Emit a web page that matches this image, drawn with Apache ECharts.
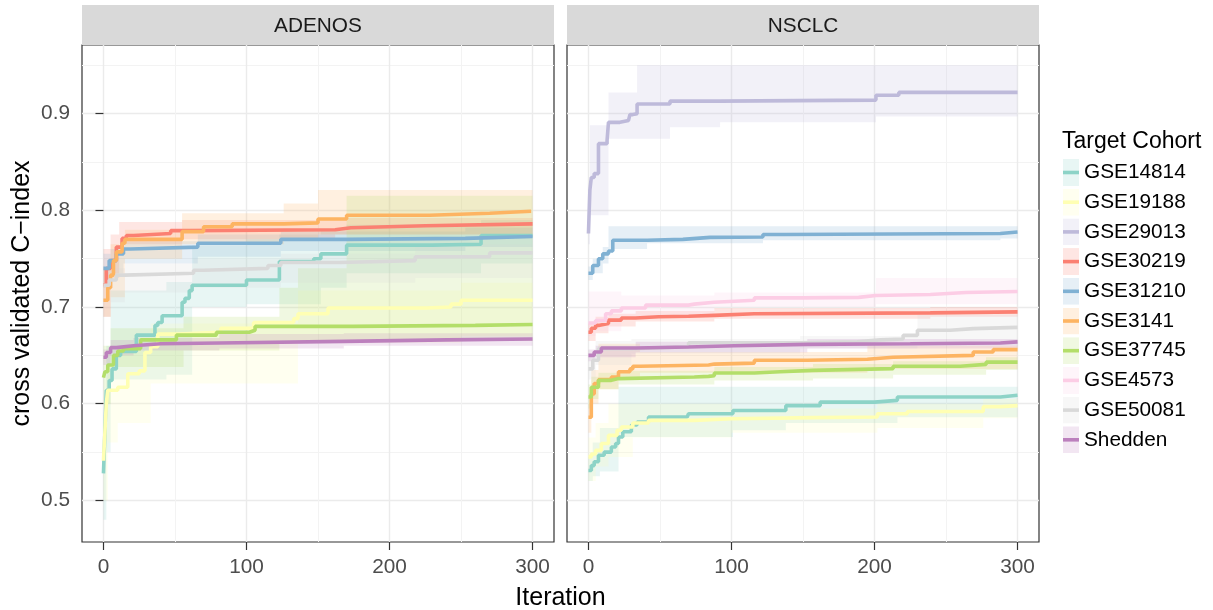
<!DOCTYPE html>
<html>
<head>
<meta charset="utf-8">
<script src="https://cdn.jsdelivr.net/npm/echarts@6/dist/echarts.min.js"></script>
<style>
html,body{margin:0;padding:0;background:#fff;}
#chart{width:1213px;height:610px;}
</style>
</head>
<body>
<div id="chart"></div>
<script>
// ---------- data ----------
const PANELS = ['ADENOS', 'NSCLC'];
const COHORTS = ['GSE14814','GSE19188','GSE29013','GSE30219','GSE31210','GSE3141','GSE37745','GSE4573','GSE50081','Shedden'];
const COLORS  = ['#8DD3C7','#FFFFB3','#BEBADA','#FB8072','#80B1D3','#FDB462','#B3DE69','#FCCDE5','#D9D9D9','#BC80BD'];
const X_MAJOR = [0, 100, 200, 300];
const X_MINOR = [50, 150, 250];
const Y_MAJOR = [0.5, 0.6, 0.7, 0.8, 0.9];
const Y_MINOR = [0.55, 0.65, 0.75, 0.85, 0.95];

// ADENOS: [iteration, C-index] (step, value holds until next point)
const ADENOS_GSE14814 = [[0,0.528],[1,0.57],[2,0.614],[4,0.624],[6,0.636],[9,0.650],[12,0.654],[23,0.671],[36,0.681],[38,0.684],[41,0.691],[55,0.705],[57,0.709],[60,0.717],[62,0.7225],[100,0.728],[123,0.747],[147,0.750],[152,0.755],[170,0.764],[230,0.765],[264,0.774],[300,0.774]];
const ADENOS_GSE19188 = [[0,0.541],[1,0.57],[2,0.60],[3,0.614],[10,0.617],[17,0.631],[25,0.634],[29,0.653],[33,0.659],[38,0.672],[52,0.674],[82,0.678],[105,0.684],[133,0.688],[136,0.693],[157,0.699],[226,0.700],[243,0.703],[250,0.707],[300,0.707]];
const ADENOS_GSE30219 = [[0,0.723],[2,0.74],[5,0.748],[9,0.762],[13,0.771],[16,0.774],[21,0.776],[47,0.779],[60,0.780],[162,0.782],[173,0.784],[225,0.786],[300,0.786]];
const ADENOS_GSE31210 = [[0,0.740],[4,0.748],[9,0.755],[14,0.760],[19,0.762],[66,0.766],[124,0.770],[170,0.771],[253,0.773],[300,0.773]];
const ADENOS_GSE3141  = [[0,0.707],[3,0.72],[5,0.733],[7,0.748],[9,0.757],[13,0.766],[15,0.770],[55,0.778],[70,0.783],[90,0.786],[126,0.787],[150,0.791],[170,0.795],[228,0.797],[270,0.799],[299,0.800],[300,0.800]];
const ADENOS_GSE37745 = [[0,0.627],[1,0.633],[3,0.640],[7,0.650],[10,0.6545],[14,0.657],[26,0.666],[51,0.671],[79,0.674],[102,0.676],[106,0.680],[174,0.681],[260,0.682],[300,0.682]];
const ADENOS_GSE50081 = [[0,0.7225],[4,0.728],[9,0.733],[15,0.735],[63,0.738],[70,0.740],[115,0.743],[124,0.746],[165,0.748],[218,0.752],[270,0.756],[300,0.757]];
const ADENOS_Shedden  = [[0,0.648],[2,0.653],[5,0.658],[9,0.660],[21,0.662],[40,0.6628],[81,0.6645],[168,0.666],[240,0.667],[300,0.667]];

// ADENOS confidence bands: [iteration, lower, upper]
const ADENOS_GSE14814_CI = [[0,0.48,0.57],[2,0.55,0.66],[5,0.625,0.717],[44,0.63,0.726],[62,0.70,0.764],[100,0.703,0.77],[123,0.703,0.775],[152,0.72,0.78],[170,0.735,0.785],[264,0.745,0.79],[300,0.745,0.79]];
const ADENOS_GSE19188_CI = [[0,0.50,0.58],[3,0.56,0.64],[10,0.58,0.655],[33,0.621,0.683],[136,0.663,0.717],[250,0.67,0.725],[300,0.67,0.725]];
const ADENOS_GSE30219_CI = [[0,0.69,0.76],[5,0.73,0.775],[11,0.765,0.788],[55,0.77,0.79],[162,0.775,0.792],[300,0.778,0.795]];
const ADENOS_GSE31210_CI = [[0,0.72,0.755],[5,0.735,0.76],[14,0.745,0.768],[66,0.752,0.775],[124,0.758,0.778],[253,0.762,0.782],[300,0.762,0.782]];
const ADENOS_GSE3141_CI  = [[0,0.69,0.74],[5,0.71,0.765],[15,0.75,0.78],[55,0.765,0.797],[126,0.77,0.807],[150,0.775,0.821],[300,0.78,0.821]];
const ADENOS_GSE37745_CI = [[0,0.60,0.66],[5,0.638,0.678],[56,0.655,0.69],[123,0.665,0.72],[136,0.665,0.74],[170,0.665,0.815],[300,0.665,0.815]];
const ADENOS_GSE50081_CI = [[0,0.69,0.735],[5,0.705,0.74],[15,0.715,0.745],[63,0.72,0.75],[124,0.725,0.755],[218,0.73,0.765],[300,0.735,0.77]];
const ADENOS_Shedden_CI  = [[0,0.64,0.656],[5,0.65,0.666],[21,0.655,0.668],[81,0.657,0.672],[168,0.66,0.673],[300,0.66,0.674]];

// NSCLC: [iteration, C-index]
const NSCLC_GSE14814 = [[0,0.531],[2,0.536],[4,0.540],[7,0.5467],[11,0.55],[16,0.5553],[19,0.5588],[21,0.5656],[24,0.571],[30,0.578],[34,0.581],[42,0.5863],[69,0.588],[70,0.5897],[101,0.593],[138,0.598],[162,0.6017],[200,0.6035],[216,0.607],[288,0.6087],[300,0.609]];
const NSCLC_GSE19188 = [[0,0.545],[2,0.548],[5,0.5518],[9,0.5588],[14,0.5673],[20,0.5725],[23,0.576],[31,0.580],[42,0.5828],[74,0.5845],[100,0.5856],[157,0.5863],[202,0.5897],[223,0.592],[276,0.597],[288,0.598],[300,0.598]];
const NSCLC_GSE29013 = [[0,0.776],[1,0.821],[2,0.834],[4,0.838],[7,0.869],[13,0.872],[14,0.891],[22,0.893],[28,0.895],[29,0.899],[31,0.900],[34,0.910],[57,0.913],[92,0.914],[201,0.919],[217,0.922],[300,0.922]];
const NSCLC_GSE30219 = [[0,0.674],[2,0.678],[5,0.681],[7,0.683],[14,0.6865],[23,0.6887],[33,0.690],[49,0.6904],[70,0.6914],[88,0.693],[116,0.694],[239,0.695],[300,0.695]];
const NSCLC_GSE31210 = [[0,0.735],[3,0.743],[7,0.750],[10,0.755],[14,0.758],[17,0.769],[41,0.770],[66,0.772],[85,0.7724],[122,0.775],[137,0.776],[288,0.7776],[300,0.778]];
const NSCLC_GSE3141  = [[0,0.586],[2,0.610],[4,0.6208],[7,0.6249],[16,0.6276],[21,0.633],[29,0.636],[31,0.6387],[36,0.640],[84,0.641],[88,0.642],[116,0.645],[153,0.646],[195,0.648],[213,0.650],[269,0.6535],[283,0.656],[300,0.656]];
const NSCLC_GSE37745 = [[0,0.607],[2,0.617],[7,0.6242],[16,0.626],[21,0.6276],[74,0.6283],[84,0.629],[88,0.6318],[116,0.633],[134,0.6345],[157,0.6363],[213,0.6387],[260,0.6407],[278,0.643],[300,0.643]];
const NSCLC_GSE4573  = [[0,0.6835],[5,0.686],[12,0.693],[16,0.696],[23,0.699],[40,0.702],[70,0.703],[74,0.705],[88,0.707],[116,0.7095],[150,0.710],[189,0.712],[201,0.713],[239,0.715],[264,0.716],[300,0.716]];
const NSCLC_GSE50081 = [[0,0.636],[3,0.645],[7,0.657],[30,0.659],[70,0.663],[148,0.664],[188,0.666],[204,0.667],[220,0.6707],[230,0.676],[253,0.6777],[269,0.679],[300,0.680]];
const NSCLC_Shedden  = [[0,0.650],[4,0.6535],[9,0.6576],[33,0.6586],[70,0.660],[102,0.6614],[153,0.662],[225,0.6628],[288,0.664],[300,0.664]];

// NSCLC confidence bands: [iteration, lower, upper]
const NSCLC_GSE14814_CI = [[0,0.52,0.545],[3,0.525,0.56],[8,0.53,0.575],[21,0.5656,0.6175],[101,0.5725,0.6175],[138,0.58,0.6175],[216,0.586,0.6175],[300,0.59,0.62]];
const NSCLC_GSE19188_CI = [[0,0.52,0.565],[5,0.535,0.58],[14,0.545,0.60],[31,0.565,0.60],[100,0.57,0.595],[202,0.575,0.60],[276,0.585,0.605],[300,0.585,0.605]];
const NSCLC_GSE29013_CI = [[0,0.765,0.79],[1,0.795,0.888],[14,0.874,0.922],[34,0.874,0.950],[57,0.886,0.950],[92,0.891,0.950],[201,0.897,0.950],[300,0.897,0.950]];
const NSCLC_GSE30219_CI = [[0,0.665,0.683],[5,0.673,0.69],[14,0.68,0.693],[33,0.685,0.696],[88,0.688,0.699],[239,0.69,0.70],[300,0.69,0.70]];
const NSCLC_GSE31210_CI = [[0,0.728,0.742],[3,0.735,0.75],[10,0.745,0.762],[14,0.760,0.7835],[41,0.766,0.7835],[122,0.769,0.7835],[288,0.771,0.7835],[300,0.771,0.7835]];
const NSCLC_GSE3141_CI  = [[0,0.57,0.60],[2,0.60,0.635],[7,0.615,0.662],[21,0.628,0.662],[36,0.632,0.6535],[195,0.636,0.66],[300,0.64,0.662]];
const NSCLC_GSE37745_CI = [[0,0.595,0.62],[2,0.605,0.628],[7,0.615,0.632],[21,0.62,0.634],[88,0.624,0.638],[157,0.626,0.641],[213,0.63,0.644],[278,0.635,0.648],[300,0.635,0.648]];
const NSCLC_GSE4573_CI  = [[0,0.67,0.716],[5,0.675,0.716],[23,0.690,0.712],[88,0.700,0.715],[201,0.703,0.730],[300,0.705,0.730]];
const NSCLC_GSE50081_CI = [[0,0.625,0.65],[5,0.64,0.665],[30,0.652,0.667],[148,0.657,0.670],[230,0.66,0.692],[300,0.665,0.695]];
const NSCLC_Shedden_CI  = [[0,0.644,0.656],[5,0.648,0.66],[33,0.653,0.664],[153,0.657,0.667],[300,0.659,0.669]];

// lookup table built from the arrays above
const TABLE = {
  ADENOS: {
    GSE14814:[ADENOS_GSE14814, ADENOS_GSE14814_CI], GSE19188:[ADENOS_GSE19188, ADENOS_GSE19188_CI],
    GSE30219:[ADENOS_GSE30219, ADENOS_GSE30219_CI], GSE31210:[ADENOS_GSE31210, ADENOS_GSE31210_CI],
    GSE3141:[ADENOS_GSE3141, ADENOS_GSE3141_CI], GSE37745:[ADENOS_GSE37745, ADENOS_GSE37745_CI],
    GSE50081:[ADENOS_GSE50081, ADENOS_GSE50081_CI], Shedden:[ADENOS_Shedden, ADENOS_Shedden_CI]
  },
  NSCLC: {
    GSE14814:[NSCLC_GSE14814, NSCLC_GSE14814_CI], GSE19188:[NSCLC_GSE19188, NSCLC_GSE19188_CI],
    GSE29013:[NSCLC_GSE29013, NSCLC_GSE29013_CI], GSE30219:[NSCLC_GSE30219, NSCLC_GSE30219_CI],
    GSE31210:[NSCLC_GSE31210, NSCLC_GSE31210_CI], GSE3141:[NSCLC_GSE3141, NSCLC_GSE3141_CI],
    GSE37745:[NSCLC_GSE37745, NSCLC_GSE37745_CI], GSE4573:[NSCLC_GSE4573, NSCLC_GSE4573_CI],
    GSE50081:[NSCLC_GSE50081, NSCLC_GSE50081_CI], Shedden:[NSCLC_Shedden, NSCLC_Shedden_CI]
  }
};

// ---------- layout / style ----------
const FONT = '"Liberation Sans", Arial, Helvetica, sans-serif';
const GRID_TOP = 45, GRID_H = 497, GRID_W = 472;
const GRID_LEFT = [82, 567];
const X_MIN = -15, X_MAX = 315, Y_MIN = 0.457, Y_MAX = 0.971;
const TICK_FS = 20.8;

const grids = [], xAxes = [], yAxes = [], series = [];
PANELS.forEach((p, i) => {
  grids.push({left: GRID_LEFT[i], top: GRID_TOP, width: GRID_W, height: GRID_H,
              show: true, backgroundColor: '#ffffff', borderColor: '#333333', borderWidth: 1.2, containLabel: false});
  xAxes.push({type: 'value', gridIndex: i, min: X_MIN, max: X_MAX, position: 'bottom',
    axisLine: {show: false},
    axisTick: {show: true, customValues: X_MAJOR, length: 8, lineStyle: {color: '#333333', width: 1.2}},
    axisLabel: {show: true, customValues: X_MAJOR, color: '#4d4d4d', fontSize: TICK_FS, fontFamily: FONT, margin: 15},
    splitLine: {show: true, lineStyle: {color: '#ebebeb', width: 1.4}}
  });
  xAxes.push({type: 'value', gridIndex: i, min: X_MIN, max: X_MAX, position: 'top',
    axisLine: {show: false}, axisTick: {show: false, customValues: X_MINOR},
    axisLabel: {show: false, customValues: X_MINOR},
    splitLine: {show: true, lineStyle: {color: '#f3f3f3', width: 1}}
  });
  yAxes.push({type: 'value', gridIndex: i, min: Y_MIN, max: Y_MAX, position: 'left',
    axisLine: {show: false},
    axisTick: {show: i === 0, customValues: Y_MAJOR, length: 8, lineStyle: {color: '#333333', width: 1.2}},
    axisLabel: {show: i === 0, customValues: Y_MAJOR, color: '#4d4d4d', fontSize: TICK_FS, fontFamily: FONT, margin: 12,
      formatter: v => v.toFixed(1)},
    splitLine: {show: true, lineStyle: {color: '#ebebeb', width: 1.4}}
  });
  yAxes.push({type: 'value', gridIndex: i, min: Y_MIN, max: Y_MAX, position: 'right',
    axisLine: {show: false}, axisTick: {show: false, customValues: Y_MINOR},
    axisLabel: {show: false, customValues: Y_MINOR},
    splitLine: {show: true, lineStyle: {color: '#f3f3f3', width: 1}}
  });
});

// step-shaped confidence band drawn as one polygon through the axes' scales
function bandRenderer(ci, color) {
  return function (params, api) {
    if (params.dataIndex !== 0) return null;
    const n = ci.length, pts = [];
    for (let j = 0; j < n; j++) {
      pts.push(api.coord([ci[j][0], ci[j][2]]));
      if (j < n - 1) pts.push(api.coord([ci[j + 1][0], ci[j][2]]));
    }
    for (let j = n - 1; j >= 0; j--) {
      if (j < n - 1) pts.push(api.coord([ci[j + 1][0], ci[j][1]]));
      pts.push(api.coord([ci[j][0], ci[j][1]]));
    }
    return {type: 'polygon', shape: {points: pts}, style: {fill: color, opacity: 0.2}};
  };
}

PANELS.forEach((p, i) => {
  const xi = i * 2, yi = i * 2;
  COHORTS.forEach((c, k) => {
    const entry = TABLE[p][c];
    if (!entry) return;
    series.push({type: 'custom', name: c, xAxisIndex: xi, yAxisIndex: yi, silent: true, z: 1, clip: true,
      encode: {x: 0, y: [1, 2]}, data: entry[1], renderItem: bandRenderer(entry[1], COLORS[k])});
  });
  COHORTS.forEach((c, k) => {
    const entry = TABLE[p][c];
    if (!entry) return;
    series.push({type: 'line', name: c, xAxisIndex: xi, yAxisIndex: yi, step: 'end',
      symbol: 'none', z: 3, color: COLORS[k], lineStyle: {color: COLORS[k], width: 3.6},
      data: entry[0]});
  });
});

function keyIcon(col) {
  const svg = '<svg xmlns="http://www.w3.org/2000/svg" width="16" height="27" viewBox="0 0 16 27">' +
    '<rect x="0" y="0" width="16" height="27" fill="' + col + '" fill-opacity="0.2"/>' +
    '<rect x="0" y="11.7" width="16" height="3.6" fill="' + col + '"/></svg>';
  return 'image://data:image/svg+xml;charset=utf-8,' + encodeURIComponent(svg);
}

const option = {
  animation: false,
  backgroundColor: '#ffffff',
  textStyle: {fontFamily: FONT},
  grid: grids,
  xAxis: xAxes,
  yAxis: yAxes,
  legend: {
    orient: 'vertical', left: 1063, top: 159, padding: 0,
    itemWidth: 16, itemHeight: 27, itemGap: 2.7, selectedMode: false,
    textStyle: {fontSize: TICK_FS, color: '#000000', fontFamily: FONT},
    data: COHORTS.map((c, k) => ({name: c, icon: keyIcon(COLORS[k])}))
  },
  graphic: [
    {type: 'rect', left: GRID_LEFT[0], top: 5, shape: {width: GRID_W, height: 40}, style: {fill: '#d9d9d9'}, z: 0},
    {type: 'rect', left: GRID_LEFT[1], top: 5, shape: {width: GRID_W, height: 40}, style: {fill: '#d9d9d9'}, z: 0},
    {type: 'text', x: GRID_LEFT[0] + GRID_W / 2, y: 26, style: {text: PANELS[0], font: TICK_FS + 'px ' + FONT, fill: '#1a1a1a', textAlign: 'center', textVerticalAlign: 'middle'}},
    {type: 'text', x: GRID_LEFT[1] + GRID_W / 2, y: 26, style: {text: PANELS[1], font: TICK_FS + 'px ' + FONT, fill: '#1a1a1a', textAlign: 'center', textVerticalAlign: 'middle'}},
    {type: 'text', x: (GRID_LEFT[0] + GRID_LEFT[1] + GRID_W) / 2, y: 598, style: {text: 'Iteration', font: '25px ' + FONT, fill: '#000000', textAlign: 'center', textVerticalAlign: 'middle'}},
    {type: 'text', x: 22, y: GRID_TOP + GRID_H / 2, rotation: Math.PI / 2, style: {text: 'cross validated C\u2212index', font: '25px ' + FONT, fill: '#000000', textAlign: 'center', textVerticalAlign: 'middle'}},
    {type: 'text', x: 1062, y: 142, style: {text: 'Target Cohort', font: '23px ' + FONT, fill: '#000000', textAlign: 'left', textVerticalAlign: 'middle'}}
  ],
  series: series
};

const chart = echarts.init(document.getElementById('chart'), null, {renderer: 'canvas'});
chart.setOption(option);
</script>
</body>
</html>
